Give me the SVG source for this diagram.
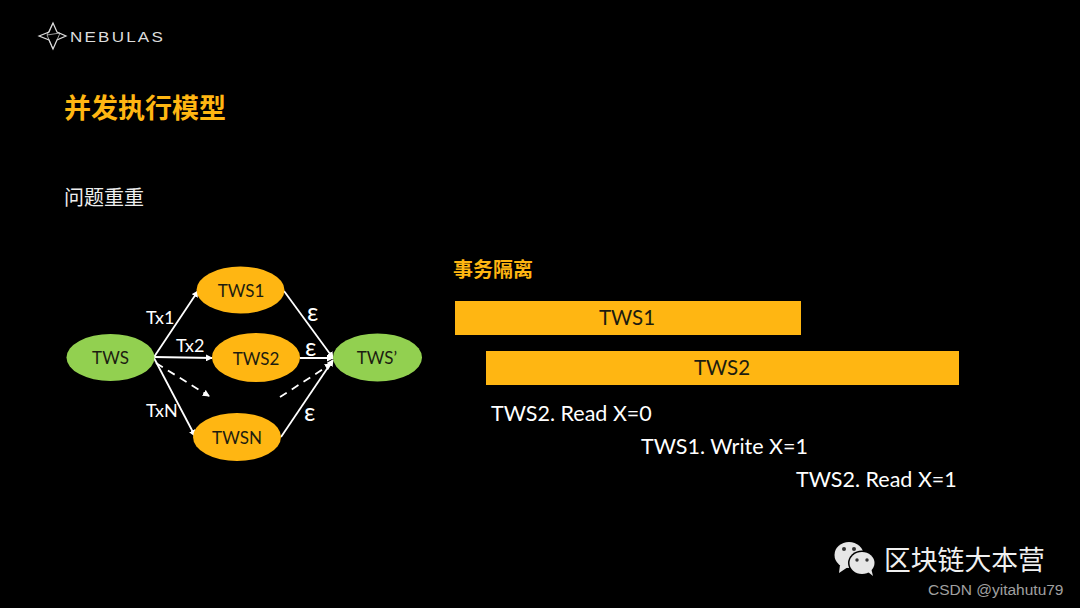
<svg xmlns="http://www.w3.org/2000/svg" width="1080" height="608" viewBox="0 0 1080 608">
<style>
text{font-family:Lato,"Open Sans","Noto Sans CJK SC",sans-serif}
.cjk{font-family:"Noto Sans CJK SC",sans-serif}
.n{font-size:17px;fill:#1c1c10;text-anchor:middle}
.w{font-size:18px;fill:#fff}
.e{font-size:25px;fill:#fff}
.l{font-size:21.500px;fill:#fff}
.b{font-size:20.500px;fill:#1c1c10;text-anchor:middle}
.g{fill:#92d050}
.o{fill:#ffb612}
.c{stroke:#fff;stroke-width:1.8;fill:none;marker-end:url(#a)}
.d{stroke-dasharray:8 6}
</style>
<defs><marker id="a" markerWidth="7" markerHeight="7" refX="6" refY="3.500" orient="auto" markerUnits="userSpaceOnUse" viewBox="0 0 7 7"><path d="M0 0L7 3.500L0 7z" fill="#fff"/></marker></defs>
<rect width="1080" height="608" fill="#000"/>
<g id="logo">
<path d="M39 36L49 32L53 23L57 32L66 36L57 40L53 49L49 40z" fill="none" stroke="#ddd" stroke-width="1.2"/>
<path d="M53 23L47 35L53 49M47 35L60 33L57 40" fill="none" stroke="#ddd" stroke-width="0.7"/>
<text x="70" y="42" font-size="15.500" fill="#ddd" textLength="95" lengthAdjust="spacingAndGlyphs" letter-spacing="2" style="font-family:'Liberation Sans',sans-serif">NEBULAS</text>
</g>
<text class="cjk" x="64" y="118" font-size="27" font-weight="700" fill="#ffb612">并发执行模型</text>
<text class="cjk" x="64" y="205" font-size="20" fill="#eee">问题重重</text>
<g id="connectors">
<path class="c" d="M154 357L198 291"/>
<path class="c" d="M154 357L212 358"/>
<path class="c d" d="M156 363L209 396"/>
<path class="c" d="M154 358L195 436"/>
<path class="c" d="M284 291L333 358"/>
<path class="c" d="M300 358L333 358"/>
<path class="c" d="M281 437L333 360"/>
<path class="c d" d="M280 397L331 364"/>
</g>
<g id="tws"><ellipse class="g" cx="110.500" cy="357.500" rx="44" ry="23.500"/><text class="n" x="110.500" y="363.500">TWS</text></g>
<g id="tws1"><ellipse class="o" cx="240.500" cy="290" rx="44" ry="23.500"/><text class="n" x="241" y="296.500">TWS1</text></g>
<g id="tws2"><ellipse class="o" cx="256" cy="357.500" rx="44" ry="24.500"/><text class="n" x="256" y="364.500">TWS2</text></g>
<g id="twsn"><ellipse class="o" cx="237" cy="437" rx="44" ry="24"/><text class="n" x="237" y="443.500">TWSN</text></g>
<g id="twsp"><ellipse class="g" cx="377.500" cy="357.500" rx="44.500" ry="24"/><text class="n" x="377" y="364">TWS’</text></g>
<g id="edge-labels">
<text class="w" x="146" y="324">Tx1</text>
<text class="w" x="176" y="352">Tx2</text>
<text class="w" x="146" y="417">TxN</text>
<text class="e" x="307" y="321">ε</text>
<text class="e" x="305" y="356">ε</text>
<text class="e" x="304" y="421">ε</text>
</g>
<text class="cjk" x="453" y="277" font-size="20" font-weight="700" fill="#ffb612">事务隔离</text>
<g id="bar1"><rect class="o" x="455" y="301" width="346" height="34"/><text class="b" x="627" y="325">TWS1</text></g>
<g id="bar2"><rect class="o" x="486" y="351" width="473" height="34"/><text class="b" x="722" y="375">TWS2</text></g>
<text class="l" x="491" y="421">TWS2. Read X=0</text>
<text class="l" x="641" y="454">TWS1. Write X=1</text>
<text class="l" x="796" y="487">TWS2. Read X=1</text>
<g id="watermark">
<ellipse cx="849" cy="555" rx="14.500" ry="13" fill="#e6e6e6"/>
<path d="M840 565L839 573L848 567z" fill="#e6e6e6"/>
<ellipse cx="862" cy="563" rx="14" ry="12.500" fill="#000"/>
<ellipse cx="862" cy="563" rx="12.500" ry="11" fill="#e6e6e6"/>
<path d="M868 572L873 576L871 568z" fill="#e6e6e6"/>
<circle cx="844" cy="549" r="2" fill="#333"/><circle cx="854" cy="549" r="2" fill="#333"/>
<circle cx="857" cy="560" r="1.700" fill="#333"/><circle cx="867" cy="560" r="1.700" fill="#333"/>
<text class="cjk" x="884" y="570" font-size="26.800" fill="#f0f0f0">区块链大本营</text>
<text x="928" y="595" font-size="15.500" fill="#a0a0a0" style="font-family:'Liberation Sans',sans-serif">CSDN @yitahutu79</text>
</g>
</svg>
